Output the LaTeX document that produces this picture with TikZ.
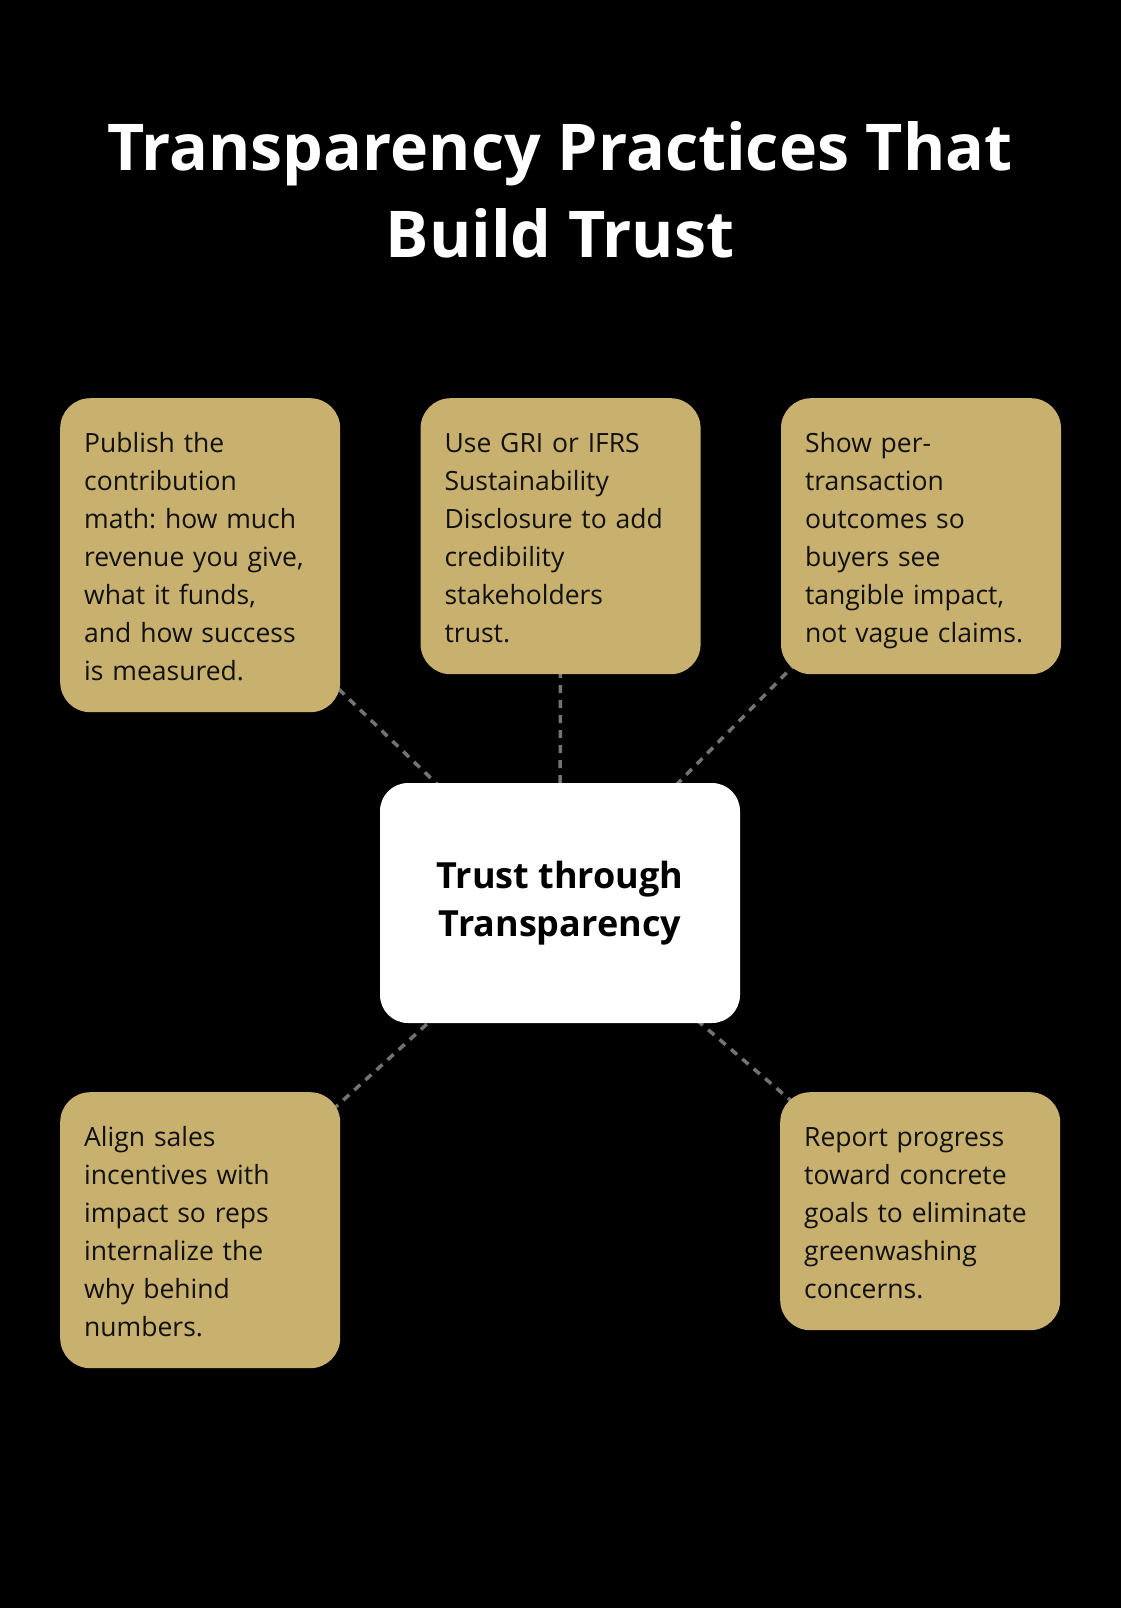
\documentclass[tikz,border=0pt]{standalone}
\usepackage{fontspec}
\setmainfont{Open Sans}
\usepackage{xcolor}
\usetikzlibrary{positioning,backgrounds}

\definecolor{goldbox}{RGB}{200,176,110}
\definecolor{linkgray}{RGB}{115,115,115}
\definecolor{inkdark}{RGB}{17,17,17}
\frenchspacing
\newcommand\boxstrut{\rule[-8pt]{0pt}{38pt}}

\begin{document}
\begin{tikzpicture}[
  x=1pt, y=-1pt,
  practice/.style={fill=goldbox, rounded corners=30pt, anchor=north west, align=left,
    text width=232pt, inner xsep=24pt, inner ysep=24pt, minimum width=280pt,
    text=inkdark, font=\fontsize{26.5pt}{38pt}\selectfont,
    execute at begin node=\boxstrut, execute at end node=\boxstrut},
  core/.style={fill=white, rounded corners=28pt, align=center, minimum width=360pt,
    minimum height=240pt, text=black, font=\fontsize{36pt}{48pt}\selectfont\bfseries},
  link/.style={draw=linkgray, line width=3.5pt, dash pattern=on 8pt off 7pt}
]
\useasboundingbox (0,0) rectangle (1120,1608);

\node[text=white, align=center, font=\fontsize{64.5pt}{87pt}\selectfont\bfseries] (title) at (560,190)
  {Transparency Practices That\\Build Trust};

\node[core] (trust) at (560,903) {Trust through\\Transparency};

% top row
\node[practice] (pubmath) at (60,398)
  {Publish the\\contribution\\math: how much\\revenue you give,\\what it funds,\\and how success\\is measured.};
\node[practice] (framework) at ([xshift=80pt]pubmath.north east)
  {Use GRI or IFRS\\Sustainability\\Disclosure to add\\credibility\\stakeholders\\trust.};
\node[practice] (pertx) at ([xshift=80pt]framework.north east)
  {Show per-\\transaction\\outcomes so\\buyers see\\tangible impact,\\not vague claims.};

% bottom row
\node[practice] (incentives) at (60,1092)
  {Align sales\\incentives with\\impact so reps\\internalize the\\why behind\\numbers.};
\node[practice] (progress) at (780,1092)
  {Report progress\\toward concrete\\goals to eliminate\\greenwashing\\concerns.};

\begin{scope}[on background layer]
\fill[black] (-10,-10) rectangle (1130,1618);
\draw[link] (trust.center) -- (pubmath.center);
\draw[link] (trust.center) -- (framework.center);
\draw[link] (trust.center) -- (pertx.center);
\draw[link] (trust.center) -- (incentives.center);
\draw[link] (trust.center) -- (progress.center);
\end{scope}
\end{tikzpicture}
\end{document}
